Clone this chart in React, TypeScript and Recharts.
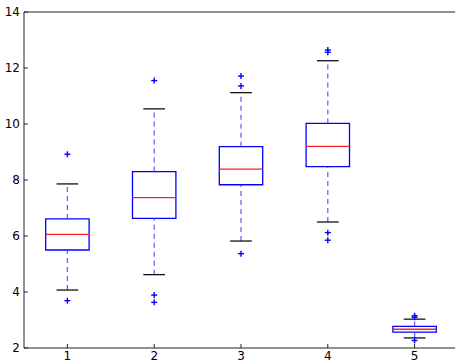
import React from 'react';
import {
  ComposedChart, XAxis, YAxis, Scatter, ReferenceArea, ReferenceLine
} from 'recharts';

// box statistics, one entry per group
const categories = [1, 2, 3, 4, 5];
const lowerWhisker = [4.07, 4.62, 5.82, 6.5, 2.36];
const q1 = [5.5, 6.63, 7.83, 8.48, 2.57];
const median = [6.06, 7.37, 8.39, 9.2, 2.67];
const q3 = [6.61, 8.3, 9.19, 10.02, 2.77];
const upperWhisker = [7.86, 10.54, 11.12, 12.26, 3.03];
const outliers = [
  [3.69, 8.92],
  [3.63, 3.89, 11.55],
  [5.37, 11.36, 11.71],
  [5.85, 6.12, 12.56, 12.64],
  [2.27, 3.1, 3.15],
];

const xTicks = [1, 2, 3, 4, 5];
const yTicks = [2, 4, 6, 8, 10, 12, 14];

const BOX_HALF = 0.25;
const CAP_HALF = 0.125;

const flierData = categories.flatMap((c, i) => outliers[i].map((v) => ({ x: c, y: v })));

const PlusMarker = (props: any) => {
  const { cx, cy } = props;
  if (cx == null || cy == null) return null;
  return (
    <g>
      <line x1={cx - 3} x2={cx + 3} y1={cy} y2={cy} stroke="#0000ff" strokeWidth={1.4} />
      <line x1={cx} x2={cx} y1={cy - 3} y2={cy + 3} stroke="#0000ff" strokeWidth={1.4} />
    </g>
  );
};

const tickStyle = { fill: '#000', fontSize: 12, fontFamily: 'DejaVu Sans' };

export default function App() {
  return (
    <div style={{ position: 'absolute', left: 0, top: 0, fontFamily: 'DejaVu Sans' }}>
      <ComposedChart width={470} height={361} margin={{ top: 11, right: 11, bottom: 0, left: 0 }}>
        <XAxis
          xAxisId={0}
          dataKey="x"
          type="number"
          domain={[0.5, 5.5]}
          ticks={xTicks}
          allowDataOverflow
          height={13}
          tickSize={-4}
          tickMargin={7}
          tick={tickStyle}
          stroke="#222"
        />
        <XAxis
          xAxisId="top"
          orientation="top"
          type="number"
          domain={[0.5, 5.5]}
          ticks={xTicks}
          allowDataOverflow
          height={1}
          tickSize={-4}
          tick={false}
          stroke="#222"
        />
        <YAxis
          yAxisId={0}
          type="number"
          domain={[2, 14]}
          ticks={yTicks}
          allowDataOverflow
          width={24}
          tickSize={-4}
          tickMargin={8}
          tick={tickStyle}
          stroke="#222"
        />
        <YAxis
          yAxisId="right"
          orientation="right"
          type="number"
          domain={[2, 14]}
          ticks={yTicks}
          allowDataOverflow
          width={1}
          tickSize={-4}
          tick={false}
          stroke="#222"
        />

        {categories.map((c, i) => (
          <ReferenceLine
            key={`wl${c}`}
            segment={[{ x: c, y: lowerWhisker[i] }, { x: c, y: q1[i] }]}
            stroke="#3333ff"
            strokeWidth={1.3}
            strokeOpacity={0.75}
            strokeDasharray="5 4"
          />
        ))}
        {categories.map((c, i) => (
          <ReferenceLine
            key={`wh${c}`}
            segment={[{ x: c, y: q3[i] }, { x: c, y: upperWhisker[i] }]}
            stroke="#3333ff"
            strokeWidth={1.3}
            strokeOpacity={0.75}
            strokeDasharray="5 4"
          />
        ))}
        {categories.map((c, i) => (
          <ReferenceArea
            key={`box${c}`}
            x1={c - BOX_HALF}
            x2={c + BOX_HALF}
            y1={q1[i]}
            y2={q3[i]}
            fill="none"
            stroke="#0000ff"
            strokeWidth={1.3}
          />
        ))}
        {categories.map((c, i) => (
          <ReferenceLine
            key={`med${c}`}
            segment={[{ x: c - BOX_HALF, y: median[i] }, { x: c + BOX_HALF, y: median[i] }]}
            stroke="#ff2222"
            strokeWidth={1.3}
          />
        ))}
        {categories.map((c, i) => (
          <ReferenceLine
            key={`capl${c}`}
            segment={[{ x: c - CAP_HALF, y: lowerWhisker[i] }, { x: c + CAP_HALF, y: lowerWhisker[i] }]}
            stroke="#111"
            strokeWidth={1.3}
          />
        ))}
        {categories.map((c, i) => (
          <ReferenceLine
            key={`caph${c}`}
            segment={[{ x: c - CAP_HALF, y: upperWhisker[i] }, { x: c + CAP_HALF, y: upperWhisker[i] }]}
            stroke="#111"
            strokeWidth={1.3}
          />
        ))}

        <Scatter data={flierData} dataKey="y" shape={<PlusMarker />} isAnimationActive={false} />
      </ComposedChart>
    </div>
  );
}
